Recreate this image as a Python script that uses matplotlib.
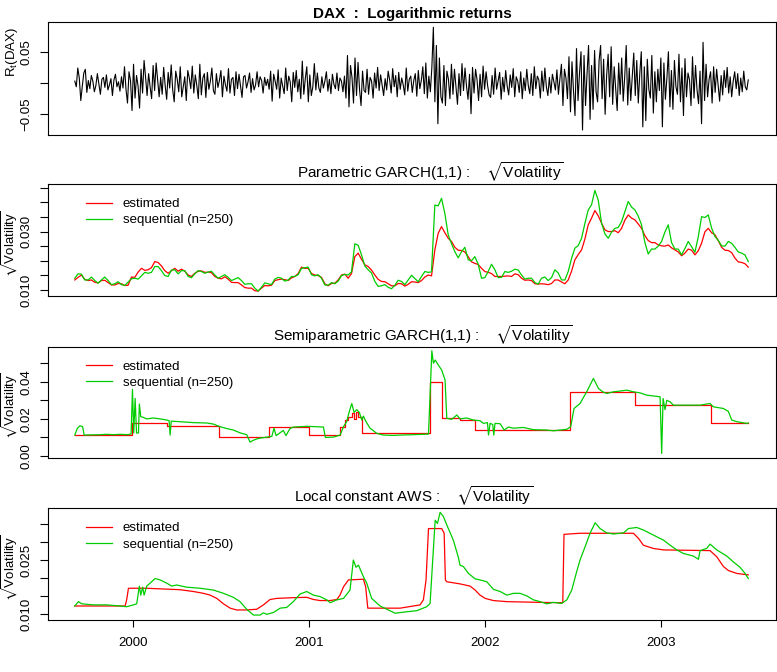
import numpy as np
import matplotlib
matplotlib.use("Agg")
import matplotlib.pyplot as plt

plt.rcParams["font.family"] = ["Liberation Sans", "DejaVu Sans"]
plt.rcParams["mathtext.fontset"] = "custom"
plt.rcParams["mathtext.rm"] = "Liberation Sans"
plt.rcParams["mathtext.it"] = "Liberation Sans:italic"
plt.rcParams["mathtext.bf"] = "Liberation Sans:bold"
plt.rcParams["mathtext.fallback"] = "stixsans"

t_start, t_end = 1999.667, 2003.494

# DAX log returns (percent)
ret_pct = [
    0.3, -0.6, 2.4, 0.8, -2.8, -0.5, 1.6, 2.2, -1.5, 0.4,
    -0.9, 1.2, 0.3, -1.4, -0.4, 1.5, -0.2, -1.8, 0.6, 0.9, -0.7, 1.3, -1.1, -0.3, 0.7, -2.0,
    0.5, 1.4, -0.6, 0.2, -1.3, 1.0, -0.8,
    2.6, -1.0, -3.2, 1.8, 0.4, -4.4, 3.0, -2.4, 1.2, -0.5, -4.0, 2.2, -1.6,
    3.6, 0.9, -2.0, 1.5, -0.6, -2.5, 2.8, -1.2, 3.2, 0.5, -2.2, 0.9, -1.8, 2.5, -0.4, -2.6, 1.7, -0.8, 2.9, -1.1,
    -3.0, 1.9, 0.6, -1.4, 2.6, -2.2, -0.6, 1.0, -2.8, 2.0, 0.8, -0.9, 2.7, -1.6, 1.3, -0.4, -2.5, 3.0, -1.9, 0.8,
    1.5, -2.3, 1.7, -1.0, 0.3, 2.4, -1.2,
    -1.8, 1.5, -0.7, 0.4, 2.0, -2.2, 1.1, -0.3, -1.3, 2.3, -1.6, 0.6, 0.9, -2.0, 1.8, -0.9, 1.4, -0.5, -2.3, 1.0,
    1.2, -0.8, 0.2, 1.6, -1.5, 0.7, -1.1, -0.3, 1.8, -0.6, 1.0, 0.4, -1.6, 0.9, -0.4, 0.6, -1.0,
    1.9, -2.9, 1.4, 0.3, -1.0, 2.1, -2.4, 0.8, -0.5, -1.7, 2.4, -1.2, 1.1, 0.2, -3.0, 1.7, -0.7, 2.0, -1.4, 0.6,
    -2.5, 3.5, -1.8, 0.7, 2.6, -3.0, 1.3, -2.0, -0.6, 3.1, -1.1, 1.6, -0.8,
    -1.5, 1.0, -0.8, 0.3, 1.8, -1.3, 0.6, -1.7, 1.4, -0.2, -0.9, 1.6, -1.2, 0.8, 0.3, -1.4, 1.1,
    -2.4, 4.4, -3.8, 2.8, 0.9, -3.2, 4.0, -2.0, 3.3, -1.0, -3.6, 1.9, -1.2,
    -1.5, 2.2, -1.8, 0.9, 0.3, -2.4, 1.6, -0.8, 2.5, -1.2, 1.3, -0.4, -2.0, 0.7, -1.1, 1.9, 0.5, -1.6, 2.3, -0.6,
    1.2, -2.2, 1.7, -1.0, 0.8, -0.3, -1.9, 2.4, -1.3, 0.6, 1.1, -1.5, 0.4,
    1.5, -2.1, 2.0, -0.9, 0.4, 2.6, -1.7, 3.2, -2.4, 1.1, -1.4,
    2.5, 8.9, -3.0, 6.0, -6.5, 4.0, -2.2,
    -3.2, 2.8, -3.6, 1.9, 0.6, -2.5, 3.0, -1.8, 2.2, -0.7, -3.4, 1.5, -2.0, 3.1, -1.2, 2.4, -0.5, -2.6, 1.4,
    -4.9, 2.5, -1.6, 2.2, 0.5, -2.8, 1.4, -2.2, 2.7, -1.0, 1.8, -0.4, -1.9,
    -2.3, 1.2, -1.8, 2.4, -1.0, 0.4, 1.7, -2.6, 0.9, -1.4, 2.0, -0.5, -1.9, 1.3, -0.7, 2.3, -2.2, 1.0, 0.3, -1.5,
    1.8, -2.5, 0.8, -1.2, 2.2, -0.4, -1.7, 1.5, -2.0, 2.6, -0.9, 1.1, 0.5, -2.4, 1.9, -1.3, 2.4, -0.6, -2.0, 0.9,
    -1.6, 1.4, 0.2, -1.1, 2.1, -1.8, 0.7,
    3.0, -3.6, 2.2, 0.8, -2.5, 4.2, -4.6, 3.4, -1.2, -5.2, 5.5, -2.8, 1.6,
    5.0, -7.5, 4.4, -3.6, 1.5, 6.0, -5.8, 2.8, -4.2, 5.2, -1.4, -3.0, 3.6,
    6.0, -2.5, 3.8, -5.0, 1.2, 4.6, -2.2, 5.8, -3.4, 2.6, -0.8, -4.4, 3.2, -1.8, 4.0, -2.9, 1.0,
    6.0, -3.5, 2.4, -2.8, 0.9, 4.8, -2.0, 3.6, -3.2, 1.5,
    5.0, -7.0, 2.6, -6.0, 3.8, -1.0, -2.4, 4.4, -4.8, 1.8, -3.0, 2.2, -1.2,
    4.0, -7.0, 3.2, -2.6, 0.8, 5.0, -3.8, 2.0, -4.2, 3.6, -0.6, -1.8, 4.6, -3.0, 2.4, -5.2, 3.9, -2.2, 1.6, 0.5,
    -3.6, 4.2, -2.4, 2.8, -1.1, -3.3, 1.9,
    -6.5, 6.5, -2.8, 3.0, -2.2, 0.6, 1.8, -3.2, 2.6, -1.5, 2.2, -0.4, -2.9, 1.2, -1.9, 2.0, -0.7,
    2.5, -1.6, 1.0, -2.2, 0.3, 1.8, -0.9, 1.5, -2.0, 0.8, -1.4, 1.9, -0.6, -1.1, 0.5,
]

# parametric GARCH(1,1): sqrt volatility read on a regular grid,
# plus the in-between readings (the "_mid" lists) that carry the jitter
garch_est = [
    0.0134, 0.0151, 0.0132, 0.0126, 0.0132, 0.0125, 0.0117, 0.0121, 0.0116, 0.0143,
    0.0174, 0.0169, 0.0197, 0.0182, 0.0157, 0.0174, 0.0171, 0.0151, 0.0157, 0.0165,
    0.0161, 0.0146, 0.0138, 0.0137, 0.0125, 0.0117, 0.0106, 0.0097, 0.0106, 0.0114,
    0.0132, 0.0137, 0.0132, 0.0146, 0.0178, 0.0174, 0.0151, 0.0143, 0.0114, 0.0123,
    0.0151, 0.0140, 0.0214, 0.0205, 0.0180, 0.0151, 0.0129, 0.0121, 0.0114, 0.0121,
    0.0119, 0.0127, 0.0132, 0.0151, 0.0237, 0.0317, 0.0277, 0.0246, 0.0235, 0.0214,
    0.0191, 0.0174, 0.0160, 0.0146, 0.0146, 0.0148, 0.0155, 0.0140, 0.0134, 0.0121,
    0.0121, 0.0118, 0.0134, 0.0127, 0.0134, 0.0203, 0.0237, 0.0323, 0.0372, 0.0329,
    0.0300, 0.0303, 0.0311, 0.0357, 0.0340, 0.0311, 0.0269, 0.0262, 0.0251, 0.0254,
    0.0237, 0.0217, 0.0240, 0.0220, 0.0260, 0.0311, 0.0289, 0.0246, 0.0235, 0.0209,
    0.0194, 0.0178,
]
garch_est_mid = [
    0.0143, 0.0136, 0.0134, 0.0124, 0.0133, 0.0117, 0.0122, 0.0115, 0.0144, 0.0161,
    0.0167, 0.0176, 0.0194, 0.0166, 0.0166, 0.0164, 0.0164, 0.0146, 0.0164, 0.0160,
    0.0159, 0.0140, 0.0145, 0.0126, 0.0125, 0.0108, 0.0106, 0.0096, 0.0115, 0.0116,
    0.0135, 0.0135, 0.0141, 0.0156, 0.0174, 0.0156, 0.0149, 0.0121, 0.0122, 0.0134,
    0.0154, 0.0156, 0.0226, 0.0186, 0.0168, 0.0136, 0.0128, 0.0114, 0.0122, 0.0113,
    0.0128, 0.0125, 0.0144, 0.0148, 0.0294, 0.0296, 0.0266, 0.0236, 0.0230, 0.0196,
    0.0187, 0.0163, 0.0156, 0.0146, 0.0147, 0.0146, 0.0152, 0.0133, 0.0132, 0.0120,
    0.0120, 0.0122, 0.0134, 0.0121, 0.0164, 0.0221, 0.0274, 0.0346, 0.0354, 0.0306,
    0.0300, 0.0296, 0.0339, 0.0346, 0.0326, 0.0286, 0.0262, 0.0254, 0.0250, 0.0244,
    0.0230, 0.0226, 0.0236, 0.0234, 0.0299, 0.0296, 0.0269, 0.0236, 0.0228, 0.0196,
    0.0190,
]
garch_seq = [
    0.0140, 0.0154, 0.0134, 0.0132, 0.0134, 0.0132, 0.0121, 0.0118, 0.0127, 0.0140,
    0.0148, 0.0157, 0.0180, 0.0166, 0.0146, 0.0169, 0.0166, 0.0146, 0.0155, 0.0163,
    0.0161, 0.0151, 0.0146, 0.0143, 0.0137, 0.0132, 0.0121, 0.0106, 0.0109, 0.0121,
    0.0137, 0.0140, 0.0134, 0.0146, 0.0174, 0.0178, 0.0148, 0.0140, 0.0116, 0.0121,
    0.0149, 0.0151, 0.0258, 0.0220, 0.0169, 0.0129, 0.0114, 0.0109, 0.0116, 0.0129,
    0.0134, 0.0139, 0.0146, 0.0160, 0.0391, 0.0414, 0.0289, 0.0231, 0.0231, 0.0203,
    0.0214, 0.0140, 0.0163, 0.0169, 0.0143, 0.0160, 0.0171, 0.0151, 0.0140, 0.0125,
    0.0140, 0.0132, 0.0169, 0.0134, 0.0163, 0.0243, 0.0277, 0.0374, 0.0441, 0.0329,
    0.0277, 0.0311, 0.0334, 0.0403, 0.0374, 0.0323, 0.0223, 0.0240, 0.0266, 0.0323,
    0.0240, 0.0220, 0.0266, 0.0229, 0.0351, 0.0357, 0.0283, 0.0251, 0.0266, 0.0246,
    0.0226, 0.0197,
]
garch_seq_mid = [
    0.0155, 0.0134, 0.0144, 0.0123, 0.0144, 0.0118, 0.0128, 0.0115, 0.0138, 0.0137,
    0.0160, 0.0160, 0.0180, 0.0149, 0.0168, 0.0155, 0.0166, 0.0142, 0.0166, 0.0157,
    0.0164, 0.0140, 0.0152, 0.0132, 0.0142, 0.0119, 0.0121, 0.0096, 0.0124, 0.0118,
    0.0143, 0.0130, 0.0146, 0.0152, 0.0176, 0.0152, 0.0152, 0.0117, 0.0125, 0.0130,
    0.0153, 0.0162, 0.0253, 0.0182, 0.0158, 0.0112, 0.0118, 0.0104, 0.0133, 0.0118,
    0.0150, 0.0128, 0.0163, 0.0162, 0.0388, 0.0362, 0.0258, 0.0210, 0.0246, 0.0200,
    0.0188, 0.0142, 0.0188, 0.0142, 0.0163, 0.0164, 0.0168, 0.0137, 0.0140, 0.0120,
    0.0144, 0.0142, 0.0158, 0.0134, 0.0208, 0.0252, 0.0328, 0.0392, 0.0408, 0.0292,
    0.0298, 0.0314, 0.0368, 0.0384, 0.0353, 0.0262, 0.0240, 0.0250, 0.0298, 0.0262,
    0.0240, 0.0242, 0.0248, 0.0282, 0.0348, 0.0312, 0.0270, 0.0250, 0.0260, 0.0230,
    0.0220,
]

# semiparametric GARCH(1,1): estimated is piecewise constant (value from each date on)
semi_est_t = [1999.667, 1999.995, 2000.190, 2000.489, 2000.773, 2001.000, 2001.175, 2001.203,
              2001.222, 2001.241, 2001.254, 2001.265, 2001.279, 2001.298, 2001.686, 2001.752,
              2001.856, 2001.942, 2002.481, 2002.851, 2003.283, 2003.494]
semi_est = [0.0113, 0.0176, 0.0161, 0.0104, 0.0154, 0.0113, 0.0158, 0.0194,
            0.0212, 0.0230, 0.0200, 0.0235, 0.0212, 0.0122, 0.0400, 0.0203,
            0.0196, 0.0140, 0.0346, 0.0274, 0.0179, 0.0179]
semi_seq_t = [
    1999.667, 1999.682, 1999.697, 1999.712, 1999.720, 1999.811, 1999.849, 1999.887, 1999.925, 1999.962,
    1999.987, 1999.995, 2000.002, 2000.010, 2000.018, 2000.029, 2000.034, 2000.042, 2000.057, 2000.076,
    2000.114, 2000.152, 2000.190, 2000.203, 2000.209, 2000.215, 2000.265, 2000.341, 2000.417, 2000.455,
    2000.493, 2000.531, 2000.568, 2000.606, 2000.644, 2000.663, 2000.682, 2000.710, 2000.758, 2000.787,
    2000.799, 2000.811, 2000.852, 2000.867, 2000.890, 2000.909, 2000.947, 2000.985, 2001.042, 2001.080,
    2001.091, 2001.137, 2001.175, 2001.194, 2001.212, 2001.227, 2001.241, 2001.254, 2001.269, 2001.284,
    2001.298, 2001.307, 2001.322, 2001.345, 2001.383, 2001.421, 2001.477, 2001.516, 2001.591, 2001.677,
    2001.696, 2001.705, 2001.715, 2001.733, 2001.752, 2001.771, 2001.781, 2001.809, 2001.838, 2001.856,
    2001.894, 2001.932, 2001.970, 2001.989, 2002.012, 2002.018, 2002.027, 2002.042, 2002.048, 2002.055,
    2002.084, 2002.107, 2002.131, 2002.160, 2002.216, 2002.273, 2002.349, 2002.387, 2002.425, 2002.463,
    2002.485, 2002.504, 2002.538, 2002.576, 2002.614, 2002.643, 2002.667, 2002.690, 2002.728, 2002.766,
    2002.804, 2002.841, 2002.880, 2002.917, 2002.993, 2003.002, 2003.010, 2003.021, 2003.031, 2003.050,
    2003.069, 2003.107, 2003.163, 2003.220, 2003.277, 2003.296, 2003.353, 2003.381, 2003.400, 2003.429,
    2003.485, 2003.494,
]
semi_seq = [
    0.0113, 0.0150, 0.0163, 0.0158, 0.0113, 0.0115, 0.0117, 0.0115, 0.0117, 0.0115,
    0.0118, 0.0359, 0.0124, 0.0310, 0.0124, 0.0124, 0.0280, 0.0212, 0.0208, 0.0200,
    0.0205, 0.0200, 0.0194, 0.0190, 0.0113, 0.0188, 0.0185, 0.0180, 0.0178, 0.0172,
    0.0158, 0.0148, 0.0140, 0.0125, 0.0115, 0.0075, 0.0085, 0.0095, 0.0102, 0.0106,
    0.0150, 0.0110, 0.0138, 0.0110, 0.0148, 0.0156, 0.0158, 0.0160, 0.0158, 0.0156,
    0.0100, 0.0102, 0.0113, 0.0158, 0.0185, 0.0240, 0.0283, 0.0235, 0.0250, 0.0235,
    0.0194, 0.0215, 0.0185, 0.0150, 0.0122, 0.0113, 0.0111, 0.0113, 0.0115, 0.0118,
    0.0567, 0.0500, 0.0517, 0.0490, 0.0463, 0.0410, 0.0203, 0.0198, 0.0221, 0.0200,
    0.0205, 0.0194, 0.0190, 0.0176, 0.0180, 0.0113, 0.0176, 0.0170, 0.0113, 0.0176,
    0.0174, 0.0140, 0.0156, 0.0150, 0.0154, 0.0142, 0.0140, 0.0136, 0.0140, 0.0144,
    0.0158, 0.0256, 0.0283, 0.0346, 0.0418, 0.0364, 0.0346, 0.0337, 0.0346, 0.0350,
    0.0355, 0.0346, 0.0340, 0.0328, 0.0319, 0.0014, 0.0310, 0.0250, 0.0300, 0.0292,
    0.0274, 0.0274, 0.0274, 0.0274, 0.0283, 0.0265, 0.0256, 0.0240, 0.0194, 0.0185,
    0.0176, 0.0178,
]

# local constant AWS
aws_est_t = [
    1999.667, 1999.953, 1999.962, 1999.972, 2000.076, 2000.265, 2000.341, 2000.398, 2000.436, 2000.474,
    2000.512, 2000.550, 2000.587, 2000.644, 2000.701, 2000.739, 2000.777, 2000.815, 2000.909, 2000.985,
    2001.023, 2001.061, 2001.118, 2001.156, 2001.174, 2001.194, 2001.222, 2001.307, 2001.320, 2001.332,
    2001.516, 2001.591, 2001.629, 2001.648, 2001.663, 2001.677, 2001.752, 2001.766, 2001.773, 2001.781,
    2001.857, 2001.913, 2001.942, 2001.970, 2001.999, 2002.046, 2002.122, 2002.311, 2002.440, 2002.447,
    2002.538, 2002.841, 2002.870, 2002.898, 2002.955, 2003.012, 2003.277, 2003.315, 2003.353, 2003.381,
    2003.429, 2003.494,
]
aws_est = [
    0.0123, 0.0123, 0.0140, 0.0172, 0.0172, 0.0168, 0.0163, 0.0158, 0.0153, 0.0144,
    0.0129, 0.0117, 0.0112, 0.0112, 0.0114, 0.0126, 0.0141, 0.0144, 0.0146, 0.0147,
    0.0141, 0.0138, 0.0138, 0.0141, 0.0153, 0.0176, 0.0195, 0.0197, 0.0176, 0.0117,
    0.0117, 0.0123, 0.0126, 0.0140, 0.0195, 0.0337, 0.0337, 0.0324, 0.0195, 0.0190,
    0.0184, 0.0178, 0.0167, 0.0153, 0.0144, 0.0138, 0.0135, 0.0133, 0.0132, 0.0321,
    0.0324, 0.0324, 0.0310, 0.0291, 0.0282, 0.0278, 0.0276, 0.0259, 0.0232, 0.0221,
    0.0213, 0.0209,
]
aws_seq_t = [
    1999.667, 1999.688, 1999.707, 1999.773, 1999.849, 1999.925, 1999.962, 2000.000, 2000.019, 2000.034,
    2000.042, 2000.053, 2000.061, 2000.076, 2000.104, 2000.123, 2000.152, 2000.190, 2000.218, 2000.246,
    2000.303, 2000.379, 2000.455, 2000.512, 2000.568, 2000.606, 2000.644, 2000.682, 2000.720, 2000.739,
    2000.758, 2000.796, 2000.834, 2000.871, 2000.909, 2000.947, 2000.985, 2001.023, 2001.061, 2001.099,
    2001.118, 2001.156, 2001.194, 2001.231, 2001.250, 2001.265, 2001.279, 2001.307, 2001.326, 2001.354,
    2001.402, 2001.449, 2001.487, 2001.553, 2001.610, 2001.667, 2001.686, 2001.701, 2001.715, 2001.728,
    2001.743, 2001.762, 2001.781, 2001.818, 2001.847, 2001.856, 2001.875, 2001.904, 2001.942, 2001.970,
    2002.008, 2002.046, 2002.084, 2002.122, 2002.160, 2002.197, 2002.235, 2002.273, 2002.311, 2002.349,
    2002.387, 2002.434, 2002.463, 2002.491, 2002.519, 2002.538, 2002.567, 2002.595, 2002.624, 2002.652,
    2002.690, 2002.728, 2002.785, 2002.813, 2002.860, 2002.898, 2002.955, 2003.012, 2003.050, 2003.088,
    2003.126, 2003.182, 2003.211, 2003.220, 2003.258, 2003.277, 2003.315, 2003.372, 2003.409, 2003.447,
    2003.476, 2003.494,
]
aws_seq = [
    0.0123, 0.0135, 0.0129, 0.0126, 0.0126, 0.0123, 0.0121, 0.0126, 0.0129, 0.0178,
    0.0153, 0.0175, 0.0153, 0.0178, 0.0190, 0.0199, 0.0195, 0.0186, 0.0178, 0.0181,
    0.0175, 0.0172, 0.0167, 0.0158, 0.0147, 0.0135, 0.0114, 0.0098, 0.0098, 0.0104,
    0.0100, 0.0105, 0.0117, 0.0119, 0.0135, 0.0156, 0.0163, 0.0153, 0.0149, 0.0140,
    0.0132, 0.0140, 0.0144, 0.0167, 0.0250, 0.0230, 0.0236, 0.0204, 0.0186, 0.0144,
    0.0123, 0.0112, 0.0103, 0.0107, 0.0110, 0.0121, 0.0130, 0.0250, 0.0360, 0.0351,
    0.0382, 0.0370, 0.0347, 0.0305, 0.0257, 0.0236, 0.0232, 0.0213, 0.0198, 0.0195,
    0.0190, 0.0169, 0.0163, 0.0153, 0.0158, 0.0158, 0.0151, 0.0140, 0.0135, 0.0129,
    0.0133, 0.0130, 0.0140, 0.0167, 0.0218, 0.0250, 0.0287, 0.0324, 0.0353, 0.0337,
    0.0325, 0.0322, 0.0325, 0.0337, 0.0340, 0.0333, 0.0319, 0.0305, 0.0291, 0.0278,
    0.0268, 0.0261, 0.0252, 0.0276, 0.0282, 0.0294, 0.0278, 0.0261, 0.0245, 0.0230,
    0.0213, 0.0199,
]

years = [2000, 2001, 2002, 2003]
RED = "#FF0000"
GREEN = "#00CD00"
vol_label = r"$\sqrt{\mathrm{Volatility}}$"


def interleave(grid, mid):
    out = np.empty(len(grid) + len(mid))
    out[0::2] = grid
    out[1::2] = mid
    return out


fig = plt.figure(figsize=(7.77, 6.72), dpi=100)
boxes = [
    [0.0618, 0.7991, 0.937, 0.1682],
    [0.0618, 0.5595, 0.937, 0.1667],
    [0.0618, 0.3189, 0.937, 0.1652],
    [0.0618, 0.0774, 0.937, 0.1662],
]
axes = [fig.add_axes(b) for b in boxes]

for ax in axes:
    ax.set_xlim(1999.515, 2003.652)
    for s in ax.spines.values():
        s.set_linewidth(0.8)
    ax.tick_params(axis="y", direction="out", length=6, width=0.8, pad=5, labelsize=9.5)
    ax.tick_params(axis="x", direction="out", length=5, width=0.8, pad=7, labelsize=9.5)
    ax.yaxis.label.set_size(9.5)

# panel 1: returns
ax = axes[0]
ret = np.array(ret_pct) / 100
ax.plot(np.linspace(t_start, t_end, len(ret)), ret, color="black", lw=0.8)
ax.set_ylim(-0.083, 0.0975)
ax.set_yticks([-0.05, 0, 0.05])
ax.set_yticklabels(["\u22120.05", "", "0.05"], rotation=90, va="center")
ax.set_ylabel(r"$\mathrm{R_t(DAX)}$")
ax.yaxis.set_label_coords(-0.038, 0.73)
ax.set_title("DAX  :  Logarithmic returns", fontsize=11, fontweight="bold", pad=3)


def vol_panel(ax, t1, v1, t2, v2, title, title_x, ylim, ticks, labels, steps=False):
    ds = "steps-post" if steps else "default"
    l1, = ax.plot(t1, v1, color=RED, lw=0.9, drawstyle=ds)
    l2, = ax.plot(t2, v2, color=GREEN, lw=0.9)
    ax.set_ylim(*ylim)
    ax.set_yticks(ticks)
    ax.set_yticklabels(labels, rotation=90, va="center")
    ax.set_ylabel(vol_label)
    ax.yaxis.set_label_coords(-0.038, 0.47)
    ax.set_title(title + "    " + vol_label, fontsize=11, pad=3, x=title_x, ha="left")
    ax.legend([l1, l2], ["estimated", "sequential (n=250)"], loc="upper left",
              bbox_to_anchor=(0.052, 0.875), frameon=False, borderpad=0, borderaxespad=0,
              handlelength=1.97, handletextpad=0.83, labelspacing=0.3, fontsize=9.5)


g_est = interleave(garch_est, garch_est_mid)
g_seq = interleave(garch_seq, garch_seq_mid)
g_t = np.linspace(t_start, t_end, len(g_est))
vol_panel(axes[1], g_t, g_est, g_t, g_seq, "Parametric GARCH(1,1) :", 0.342,
          (0.0079, 0.0463), [0.010, 0.015, 0.020, 0.025, 0.030, 0.035, 0.040, 0.045],
          ["0.010", "", "", "", "0.030", "", "", ""])
vol_panel(axes[2], semi_est_t, semi_est, semi_seq_t, semi_seq, "Semiparametric GARCH(1,1) :", 0.309,
          (-0.0009, 0.0589), [0.00, 0.01, 0.02, 0.03, 0.04, 0.05],
          ["0.00", "", "0.02", "", "0.04", ""], steps=True)
vol_panel(axes[3], aws_est_t, aws_est, aws_seq_t, aws_seq, "Local constant AWS :", 0.338,
          (0.00843, 0.0393), [0.010, 0.015, 0.020, 0.025, 0.030, 0.035],
          ["0.010", "", "", "0.025", "", ""])

for ax in axes[:3]:
    ax.set_xticks([])
axes[3].set_xticks(years)
axes[3].set_xticklabels([str(y) for y in years])

fig.savefig("out.png", dpi=100)
